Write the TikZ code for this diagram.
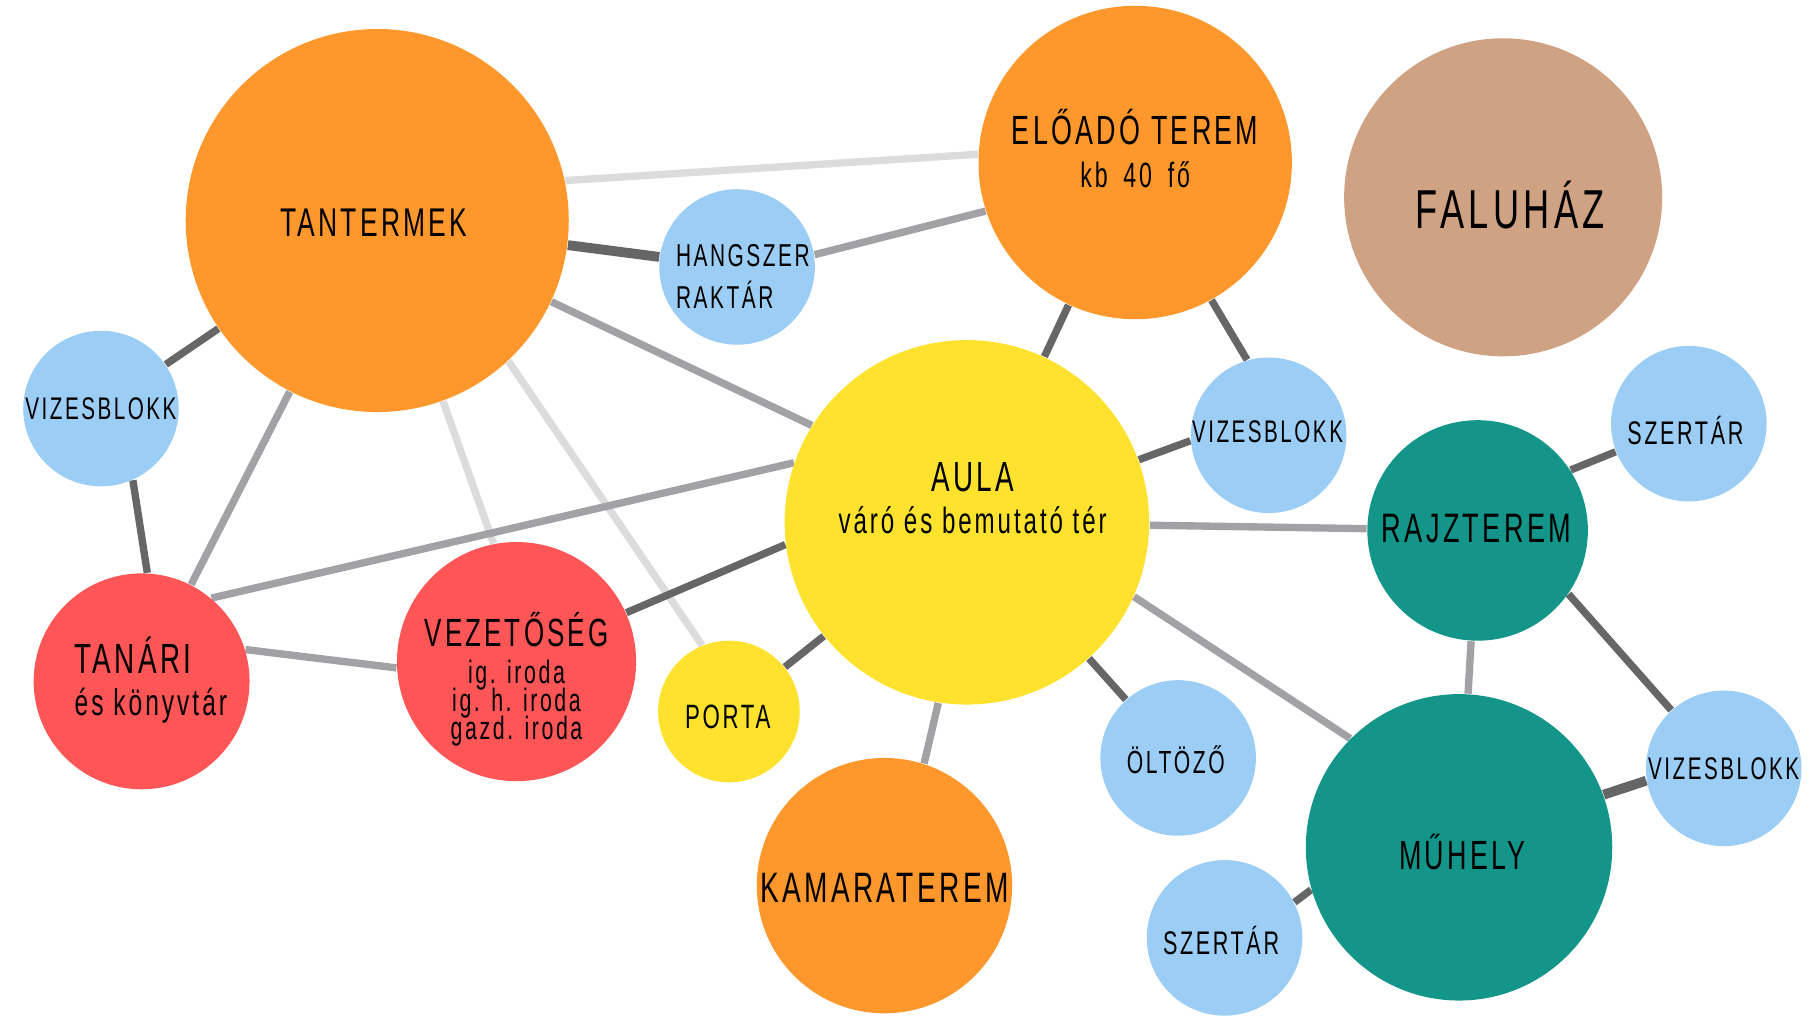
\documentclass[tikz,border=0pt]{standalone}
\usepackage{fontspec}
\setmainfont{Liberation Sans}[FakeStretch=0.66, LetterSpace=8]
\usetikzlibrary{backgrounds}
\definecolor{terem}{HTML}{FF982C}
\definecolor{sarga}{HTML}{FEE22D}
\definecolor{kek}{HTML}{9CCEF5}
\definecolor{piros}{HTML}{FE5557}
\definecolor{zold}{HTML}{13958A}
\definecolor{falu}{HTML}{CFA283}
\definecolor{linkdark}{HTML}{666666}
\definecolor{linkmid}{HTML}{A2A2A6}
\definecolor{linklight}{HTML}{DCDCDC}
\newcommand\tightlines{\fontsize{9.2}{8}\selectfont\lineskiplimit-20pt\relax}
\begin{document}
\begin{tikzpicture}[x=0.11607mm, y=-0.11607mm,
	room/.style={circle, inner sep=0pt, minimum size=#1*0.23214mm},
	big/.style={font=\fontsize{12}{12}\selectfont, align=center},
	mid/.style={font=\fontsize{9}{11.8}\selectfont, align=center},
	link/.style={line width=2.1pt, draw=#1}]
	\useasboundingbox (0, 0) rectangle (1568, 880);
	% Rooms.
	\node[room=165, fill=terem] (tantermek) at (325, 190) {};
	\node[font=\fontsize{11.4}{12}\selectfont] (tantermek-t) at (322, 192) {TANTERMEK};
	\node[room=67, fill=kek] (hangszer) at (635, 230) {};
	\node[mid, align=left] (hangszer-t) at (640, 238) {HANGSZER\\RAKTÁR};
	\node[room=135, fill=terem] (eloado) at (978, 140) {};
	\node[big] (eloado-t) at (978, 128)
		{{\fontsize{11.6}{12}\selectfont ELŐADÓ TEREM}\\{\fontsize{10}{11}\selectfont kb\hspace{0.45em}40\hspace{0.45em}fő}};
	\node[room=137, fill=falu] (faluhaz) at (1295, 170) {};
	\node[font=\fontsize{15.6}{17}\selectfont] (faluhaz-t) at (1301, 177) {FALUHÁZ};
	\node[room=67, fill=kek] (viz1) at (87, 352) {};
	\node[mid, font=\fontsize{8.9}{11}\selectfont] (viz1-t) at (viz1) {VIZESBLOKK};
	\node[room=157, fill=sarga] (aula) at (833, 450) {};
	\node[big] (aula-t) at (838, 429)
		{AULA\\{\fontsize{10.4}{11}\selectfont váró és bemutató tér}};
	\node[room=67, fill=kek] (viz2) at (1093, 375) {};
	\node[mid, font=\fontsize{8.9}{11}\selectfont] (viz2-t) at (1092, 372) {VIZESBLOKK};
	\node[room=67, fill=kek] (szertar1) at (1455, 365) {};
	\node[mid, font=\fontsize{9.3}{11}\selectfont] (szertar1-t) at (1452, 371) {SZERTÁR};
	\node[room=95, fill=zold] (rajz) at (1273, 457) {};
	\node[font=\fontsize{11.7}{13}\selectfont] (rajz-t) at (1272, 455) {RAJZTEREM};
	\node[room=93, fill=piros] (tanari) at (122, 587) {};
	\node[big, align=left] (tanari-t) at (130, 586)
		{TANÁRI\\{\fontsize{10.6}{11}\selectfont és könyvtár}};
	\node[room=103, fill=piros] (vez) at (445, 570) {};
	\node[font=\tightlines, align=center] (vez-t) at (445, 585)
		{{\fontsize{11.2}{13}\selectfont VEZETŐSÉG}\\[2.5pt]ig. iroda\\ig. h. iroda\\gazd. iroda};
	\node[room=61, fill=sarga] (porta) at (628, 613) {};
	\node[mid, font=\fontsize{9.6}{11}\selectfont] (porta-t) at (627, 618) {PORTA};
	\node[room=110, fill=terem] (kamara) at (762, 763) {};
	\node[font=\fontsize{12.1}{14}\selectfont] (kamara-t) at (762, 765) {KAMARATEREM};
	\node[room=67, fill=kek] (oltozo) at (1015, 653) {};
	\node[mid, font=\fontsize{9.1}{11}\selectfont] (oltozo-t) at (1013, 655) {ÖLTÖZŐ};
	\node[room=132, fill=zold] (muhely) at (1257, 730) {};
	\node[font=\fontsize{11.6}{13}\selectfont] (muhely-t) at (1260, 734) {MŰHELY};
	\node[room=67, fill=kek] (viz3) at (1485, 662) {};
	\node[mid, font=\fontsize{8.9}{11}\selectfont] (viz3-t) at (1485, 662) {VIZESBLOKK};
	\node[room=67, fill=kek] (szertar2) at (1055, 808) {};
	\node[mid, font=\fontsize{9.3}{11}\selectfont] (szertar2-t) at (1052, 810) {SZERTÁR};
	% Links.
	\begin{scope}[on background layer]
		\draw[link=linklight] (tantermek.12) -- (eloado.177);
		\draw[link=linklight] (tantermek.-70) -- (vez.101);
		\draw[link=linklight] (tantermek.-47) -- (porta.112);
		\draw[link=linkdark, line width=2.8pt] (tantermek) -- (hangszer);
		\draw[link=linkdark] (tantermek) -- (viz1);
		\draw[link=linkmid] (tantermek.-25) -- (aula.148);
		\draw[link=linkmid] (tantermek) -- (tanari);
		\draw[link=linkmid] (hangszer.9) -- (eloado.198);
		\draw[link=linkdark] (viz1.-66) -- (tanari.87);
		\draw[link=linkmid] (tanari.50) -- (aula.161);
		\draw[link=linkmid] (tanari.17) -- (vez.183);
		\draw[link=linkdark] (vez.24) -- (aula.187);
		\draw[link=linkdark] (porta) -- (aula);
		\draw[link=linkdark] (aula) -- (eloado);
		\draw[link=linkdark] (eloado.-61) -- (viz2.106);
		\draw[link=linkdark] (aula.20) -- (viz2.184);
		\draw[link=linkmid] (aula) -- (rajz);
		\draw[link=linkmid] (aula.-99) -- (kamara.72);
		\draw[link=linkdark] (aula) -- (oltozo);
		\draw[link=linkmid] (aula.-24) -- (muhely.135);
		\draw[link=linkdark] (rajz.33) -- (szertar1.201);
		\draw[link=linkmid] (rajz) -- (muhely);
		\draw[link=linkdark] (rajz.-35) -- (viz3.132);
		\draw[link=linkdark, line width=2.8pt] (muhely.20) -- (viz3.189);
		\draw[link=linkdark] (muhely.196) -- (szertar2.27);
	\end{scope}
\end{tikzpicture}
\end{document}
